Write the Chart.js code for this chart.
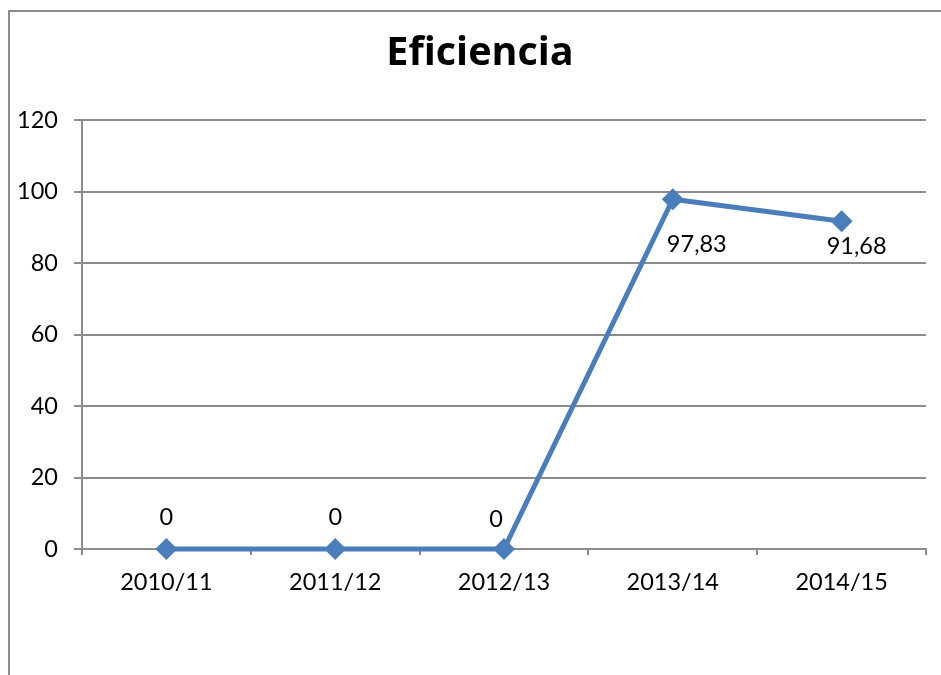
<!DOCTYPE html>
<html>
<head>
<meta charset="utf-8">
<script src="https://cdn.jsdelivr.net/npm/chart.js@4"></script>
<style>
    html, body { margin: 0; padding: 0; background: #fff; overflow: hidden; }
    #wrap { position: relative; width: 941px; height: 675px; }
    #frame {
        position: absolute; left: 8px; top: 10px; width: 960px; height: 700px;
        border-left: 2px solid #8c8c8c; border-top: 2px solid #8c8c8c;
    }
    #chart { position: absolute; left: 0; top: 0; }
</style>
</head>
<body>
<div id="wrap">
    <div id="frame"></div>
    <canvas id="chart" width="941" height="675"></canvas>
</div>
<script>
// Data
const chartTitle = 'Eficiencia';
const seasons = ['2010/11', '2011/12', '2012/13', '2013/14', '2014/15'];
const efficiency = [0, 0, 0, 97.83, 91.68];
const yTicks = [0, 20, 40, 60, 80, 100, 120];

// where each value label sits relative to its point
const labelOffsets = [[0, -32], [0, -32], [-8, -30], [24, 45], [15, 25]];

const gray = '#8c8c8c';
const blue = '#4a7ebb';
const font = 'Lato';

// Title (centred on the frame, not the canvas) and value labels with a decimal comma
const textLayer = {
    id: 'textLayer',
    afterDatasetsDraw(chart) {
        const ctx = chart.ctx;
        const meta = chart.getDatasetMeta(0);
        ctx.save();
        ctx.fillStyle = '#000';
        ctx.textAlign = 'center';
        ctx.textBaseline = 'middle';

        ctx.font = 'bold 39.5px "Open Sans"';
        ctx.fillText(chartTitle, 480, 54);

        ctx.font = '23.5px ' + font;
        meta.data.forEach((pt, i) => {
            const v = chart.data.datasets[0].data[i];
            const txt = String(v).replace('.', ',');
            ctx.fillText(txt, pt.x + labelOffsets[i][0], pt.y + labelOffsets[i][1]);
        });
        ctx.restore();
    }
};

const ctx = document.getElementById('chart').getContext('2d');
const chart = new Chart(ctx, {
    type: 'line',
    data: {
        labels: seasons,
        datasets: [{
            label: chartTitle,
            data: efficiency,
            borderColor: blue,
            backgroundColor: blue,
            borderWidth: 5,
            tension: 0,
            clip: false,
            pointStyle: 'rectRot',
            pointRadius: 11,
            pointHoverRadius: 11,
            pointBackgroundColor: blue,
            pointBorderWidth: 0
        }]
    },
    options: {
        responsive: false,
        animation: false,
        layout: { padding: { top: 120, left: 0, right: 15, bottom: 0 } },
        plugins: {
            legend: { display: false },
            tooltip: { enabled: false },
            title: { display: false }
        },
        scales: {
            x: {
                offset: true,
                grid: {
                    offset: true,
                    drawOnChartArea: false,
                    color: gray,
                    lineWidth: 2,
                    tickLength: 6
                },
                border: { color: gray, width: 2 },
                ticks: {
                    color: '#000',
                    font: { family: font, size: 23.5 },
                    padding: 13,
                    maxRotation: 0
                },
                afterFit: s => { s.height = 126; }
            },
            y: {
                min: 0,
                max: 120,
                afterBuildTicks: s => { s.ticks = yTicks.map(v => ({ value: v })); },
                grid: { color: gray, lineWidth: 2, tickLength: 8 },
                border: { color: gray, width: 2 },
                ticks: {
                    color: '#000',
                    font: { family: font, size: 23.5 },
                    padding: 16
                },
                afterFit: s => { s.width = 82; }
            }
        }
    },
    plugins: [textLayer]
});
</script>
</body>
</html>
